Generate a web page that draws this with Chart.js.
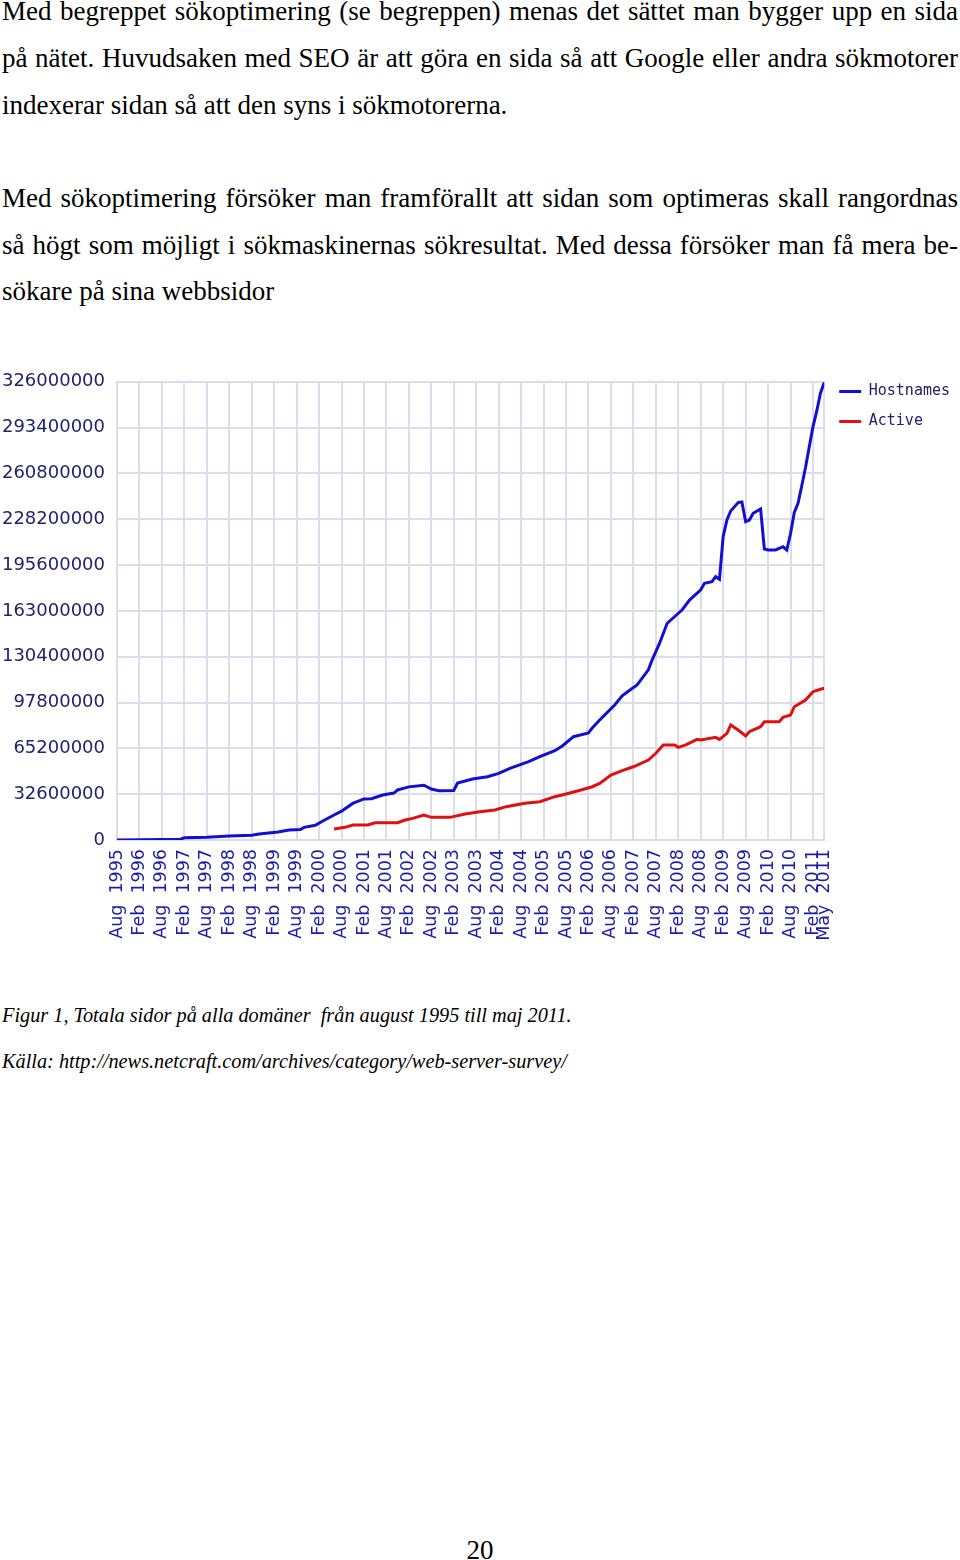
<!DOCTYPE html>
<html lang="sv">
<head>
<meta charset="utf-8">
<title>Totala sidor på alla domäner</title>
<script src="https://cdn.jsdelivr.net/npm/chart.js@4.4.1/dist/chart.umd.min.js"></script>
<style>
  html, body { margin: 0; padding: 0; background: #fff; }
  .page { position: relative; width: 960px; height: 1560px; overflow: hidden; color: #000; }
  .text { position: absolute; left: 2px; width: 956px; top: -11.8px;
          font-family: "Liberation Serif", "Times New Roman", serif; font-size: 27px; line-height: 46.7px; }
  .text div { height: 46.7px; white-space: nowrap; }
  .text .j { text-align: justify; text-align-last: justify; white-space: normal; }
  #chart { position: absolute; left: 0; top: 367px; }
  .cap { position: absolute; left: 2px; font-family: "Liberation Serif", "Times New Roman", serif;
         font-style: italic; font-size: 20.3px; line-height: 24px; white-space: pre; }
  .pnum { position: absolute; left: 0; width: 960px; top: 1535px; text-align: center;
          font-family: "Liberation Serif", "Times New Roman", serif; font-size: 27px; line-height: 30px; }
</style>
</head>
<body>
<div class="page">
  <div class="text">
    <div class="j">Med begreppet sökoptimering (se begreppen) menas det sättet man bygger upp en sida</div>
    <div class="j">på nätet. Huvudsaken med SEO är att göra en sida så att Google eller andra sökmotorer</div>
    <div>indexerar sidan så att den syns i sökmotorerna.</div>
    <div></div>
    <div class="j">Med sökoptimering försöker man framförallt att sidan som optimeras skall rangordnas</div>
    <div class="j">så högt som möjligt i sökmaskinernas sökresultat. Med dessa försöker man få mera be-</div>
    <div>sökare på sina webbsidor</div>
  </div>

  <canvas id="chart" width="960" height="600"></canvas>

  <div class="cap" style="top:1003px">Figur 1, Totala sidor på alla domäner  från august 1995 till maj 2011.</div>
  <div class="cap" style="top:1049px">Källa: http://news.netcraft.com/archives/category/web-server-survey/</div>
  <div class="pnum">20</div>
</div>

<script>
// months counted from Aug 1995 (0) to May 2011 (189), values in millions
const hostMonths = [0, 6, 12, 17, 18, 24, 30, 36, 38, 43, 46, 49, 50, 53, 55, 58, 60, 63, 66, 68,
  71, 74, 75, 78, 82, 84, 86, 90, 91, 95, 99, 102, 105, 110, 113, 117, 119, 122, 126, 127,
  129, 133, 135, 137, 139, 142, 143, 145, 147, 148, 151, 153, 156, 157, 159, 160, 161, 162, 163, 164,
  166, 167, 168, 169, 170, 172, 173, 174, 176, 178, 179, 180, 181, 182, 183, 184, 185, 186, 187, 188, 189];
const hostValues = [0.02, 0.1, 0.3, 0.6, 1.6, 2.0, 2.8, 3.4, 4.3, 5.7, 7.1, 7.4, 9.0, 10.5, 13.5, 17.8, 20.5, 26.0, 29.2, 29.4,
  32.0, 33.4, 35.6, 37.8, 39.0, 36.3, 35.1, 35.2, 40.5, 43.4, 45.0, 47.4, 51.0, 55.7, 59.3, 63.5, 66.9, 73.5, 76.1, 79.7,
  85.4, 96.0, 102.5, 106.5, 110.3, 121.0, 128.0, 140.0, 154.0, 156.5, 163.6, 170.7, 178.0, 182.6, 183.7, 187.3, 185.4, 216.0, 227.6, 234.0,
  240.0, 240.5, 226.4, 227.6, 232.4, 235.5, 207.0, 206.3, 206.3, 208.6, 206.3, 218.0, 233.0, 239.5, 252.0, 265.0, 279.7, 294.0, 305.0, 318.0, 325.5];

const activeMonths = [58, 61, 63, 67, 69, 75, 77, 79, 82, 84, 89, 93, 97, 101, 104, 109, 113, 117, 120, 124,
  127, 129, 132, 135, 138, 142, 144, 146, 149, 150, 152, 155, 156, 160, 161, 163, 164, 166, 168, 169,
  172, 173, 177, 178, 180, 181, 184, 186, 188, 189];
const activeValues = [7.8, 9.0, 10.7, 10.7, 12.3, 12.3, 14.2, 15.4, 17.8, 16.1, 16.1, 18.5, 20.1, 21.3, 23.7, 26.1, 27.2, 30.8, 32.7, 35.6,
  37.9, 40.3, 46.2, 49.3, 52.1, 56.9, 61.7, 67.6, 67.6, 65.9, 67.6, 71.6, 71.1, 73.0, 71.6, 75.9, 81.8, 78.2, 74.0, 77.0,
  80.6, 84.1, 84.1, 87.3, 88.9, 94.8, 99.6, 105.5, 107.2, 107.9];

const tickMonths = [0, 6, 12, 18, 24, 30, 36, 42, 48, 54, 60, 66, 72, 78, 84, 90, 96, 102, 108, 114,
  120, 126, 132, 138, 144, 150, 156, 162, 168, 174, 180, 186, 189];
const tickLabels = ['Aug  1995', 'Feb  1996', 'Aug  1996', 'Feb  1997', 'Aug  1997', 'Feb  1998', 'Aug  1998',
  'Feb  1999', 'Aug  1999', 'Feb  2000', 'Aug  2000', 'Feb  2001', 'Aug  2001', 'Feb  2002', 'Aug  2002',
  'Feb  2003', 'Aug  2003', 'Feb  2004', 'Aug  2004', 'Feb  2005', 'Aug  2005', 'Feb  2006', 'Aug  2006',
  'Feb  2007', 'Aug  2007', 'Feb  2008', 'Aug  2008', 'Feb  2009', 'Aug  2009', 'Feb  2010', 'Aug  2010',
  'Feb  2011', 'May  2011'];

const yStep = 32600000;
const yMax = 326000000;

function toPoints(months, values) {
  return months.map((m, i) => ({ x: m, y: values[i] * 1e6 }));
}

const gridColor = '#dcdcec';

new Chart(document.getElementById('chart'), {
  type: 'line',
  data: {
    datasets: [{
      label: 'Hostnames',
      data: toPoints(hostMonths, hostValues),
      borderColor: '#1010d4',
      backgroundColor: '#1010d4',
      pointBorderColor: '#1010d4',
      pointBorderWidth: 3,
      borderWidth: 3,
      pointRadius: 0,
      tension: 0
    }, {
      label: 'Active',
      data: toPoints(activeMonths, activeValues),
      borderColor: '#e01010',
      backgroundColor: '#e01010',
      pointBorderColor: '#e01010',
      pointBorderWidth: 3,
      borderWidth: 3,
      pointRadius: 0,
      tension: 0
    }]
  },
  options: {
    responsive: false,
    animation: false,
    layout: { padding: { top: 2, left: 0, right: 0, bottom: 0 } },
    plugins: {
      tooltip: { enabled: false },
      legend: {
        position: 'right',
        align: 'start',
        labels: {
          usePointStyle: true,
          pointStyle: 'line',
          pointStyleWidth: 22,
          padding: 15,
          color: '#22226e',
          font: { family: 'DejaVu Sans Mono', size: 15 }
        }
      }
    },
    scales: {
      x: {
        type: 'linear',
        min: 0,
        max: 189,
        afterBuildTicks: (axis) => { axis.ticks = tickMonths.map(v => ({ value: v })); },
        afterFit: (axis) => { axis.height = 127; },
        grid: { color: gridColor, lineWidth: 2, drawTicks: false },
        border: { color: gridColor, width: 2 },
        ticks: {
          autoSkip: false,
          minRotation: 90,
          maxRotation: 90,
          padding: 9,
          color: '#1c1ca8',
          font: { family: 'DejaVu Sans', size: 17.5 },
          callback: (value, index) => tickLabels[index]
        }
      },
      y: {
        min: 0,
        max: yMax,
        afterFit: (axis) => { axis.width = 117; },
        grid: { color: gridColor, lineWidth: 2, drawTicks: false },
        border: { color: gridColor, width: 2 },
        ticks: {
          stepSize: yStep,
          padding: 12,
          color: '#22226e',
          font: { family: 'DejaVu Sans', size: 18, lineHeight: 0.3 },
          callback: (value) => String(Math.round(value))
        }
      }
    }
  }
});
</script>
</body>
</html>
